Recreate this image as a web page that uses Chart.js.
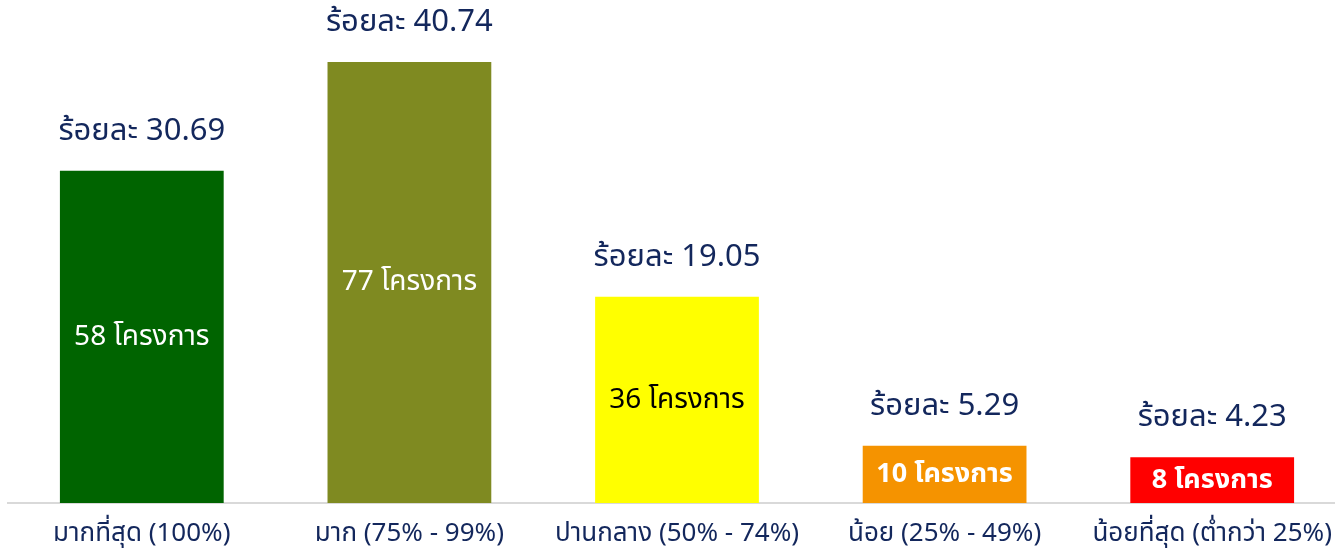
<!DOCTYPE html>
<html><head><meta charset="utf-8">
<script src="https://cdn.jsdelivr.net/npm/chart.js@4.4.1/dist/chart.umd.min.js"></script>
<style>
html,body{margin:0;padding:0;background:#fff;overflow:hidden;width:1335px;height:548px;}
#wrap{position:relative;width:1350px;height:548px;}
</style></head><body>
<div id="wrap"><canvas id="c" width="1350" height="548"></canvas></div>
<script>
const categories = ['มากที่สุด (100%)','มาก (75% - 99%)','ปานกลาง (50% - 74%)','น้อย (25% - 49%)','น้อยที่สุด (ต่ำกว่า 25%)'];
const projectCounts = [58, 77, 36, 10, 8];
const percentages = ['30.69','40.74','19.05','5.29','4.23'];
const barColors = ['#006400','#7F8A21','#FFFF00','#F59300','#FF0000'];
const innerLabelColors = ['#ffffff','#ffffff','#000000','#ffffff','#ffffff'];
const innerLabelBold = [false,false,false,true,true];

const FONT = "'Noto Sans Thai','Noto Sans','Loma','Garuda',sans-serif";
const NAVY = '#13275C';

const labelPlugin = {
  id:'labels',
  afterDatasetsDraw(chart){
    const ctx = chart.ctx;
    const meta = chart.getDatasetMeta(0);
    ctx.save();
    meta.data.forEach((bar,i)=>{
      const x = bar.x, top = bar.y, base = bar.base;
      ctx.textAlign='center';
      ctx.textBaseline='middle';
      ctx.fillStyle = NAVY;
      ctx.font = "31px " + FONT;
      ctx.fillText('ร้อยละ ' + percentages[i], x, top - 37);
      ctx.fillStyle = innerLabelColors[i];
      ctx.font = (innerLabelBold[i] ? 'bold 27px ' : '28px ') + FONT;
      ctx.fillText(projectCounts[i] + ' โครงการ', x, (top + base)/2 + 2);
    });
    ctx.restore();
  }
};

new Chart(document.getElementById('c'), {
  type:'bar',
  data:{labels:categories, datasets:[{data:projectCounts, backgroundColor:barColors, borderWidth:0, barPercentage:0.612, categoryPercentage:1.0}]},
  options:{
    responsive:false, animation:false,
    layout:{padding:{top:62,left:8,right:4,bottom:0}},
    plugins:{legend:{display:false}, tooltip:{enabled:false}},
    scales:{
      x:{grid:{display:false}, border:{display:true,color:'#d9d9d9',width:2},
         afterFit(scale){ scale.height = 45; },
         ticks:{color:NAVY, font:{size:26, family:FONT}, padding:9, maxRotation:0, autoSkip:false}},
      y:{display:false, min:0, max:77}
    }
  },
  plugins:[labelPlugin]
});
</script>
</body></html>
